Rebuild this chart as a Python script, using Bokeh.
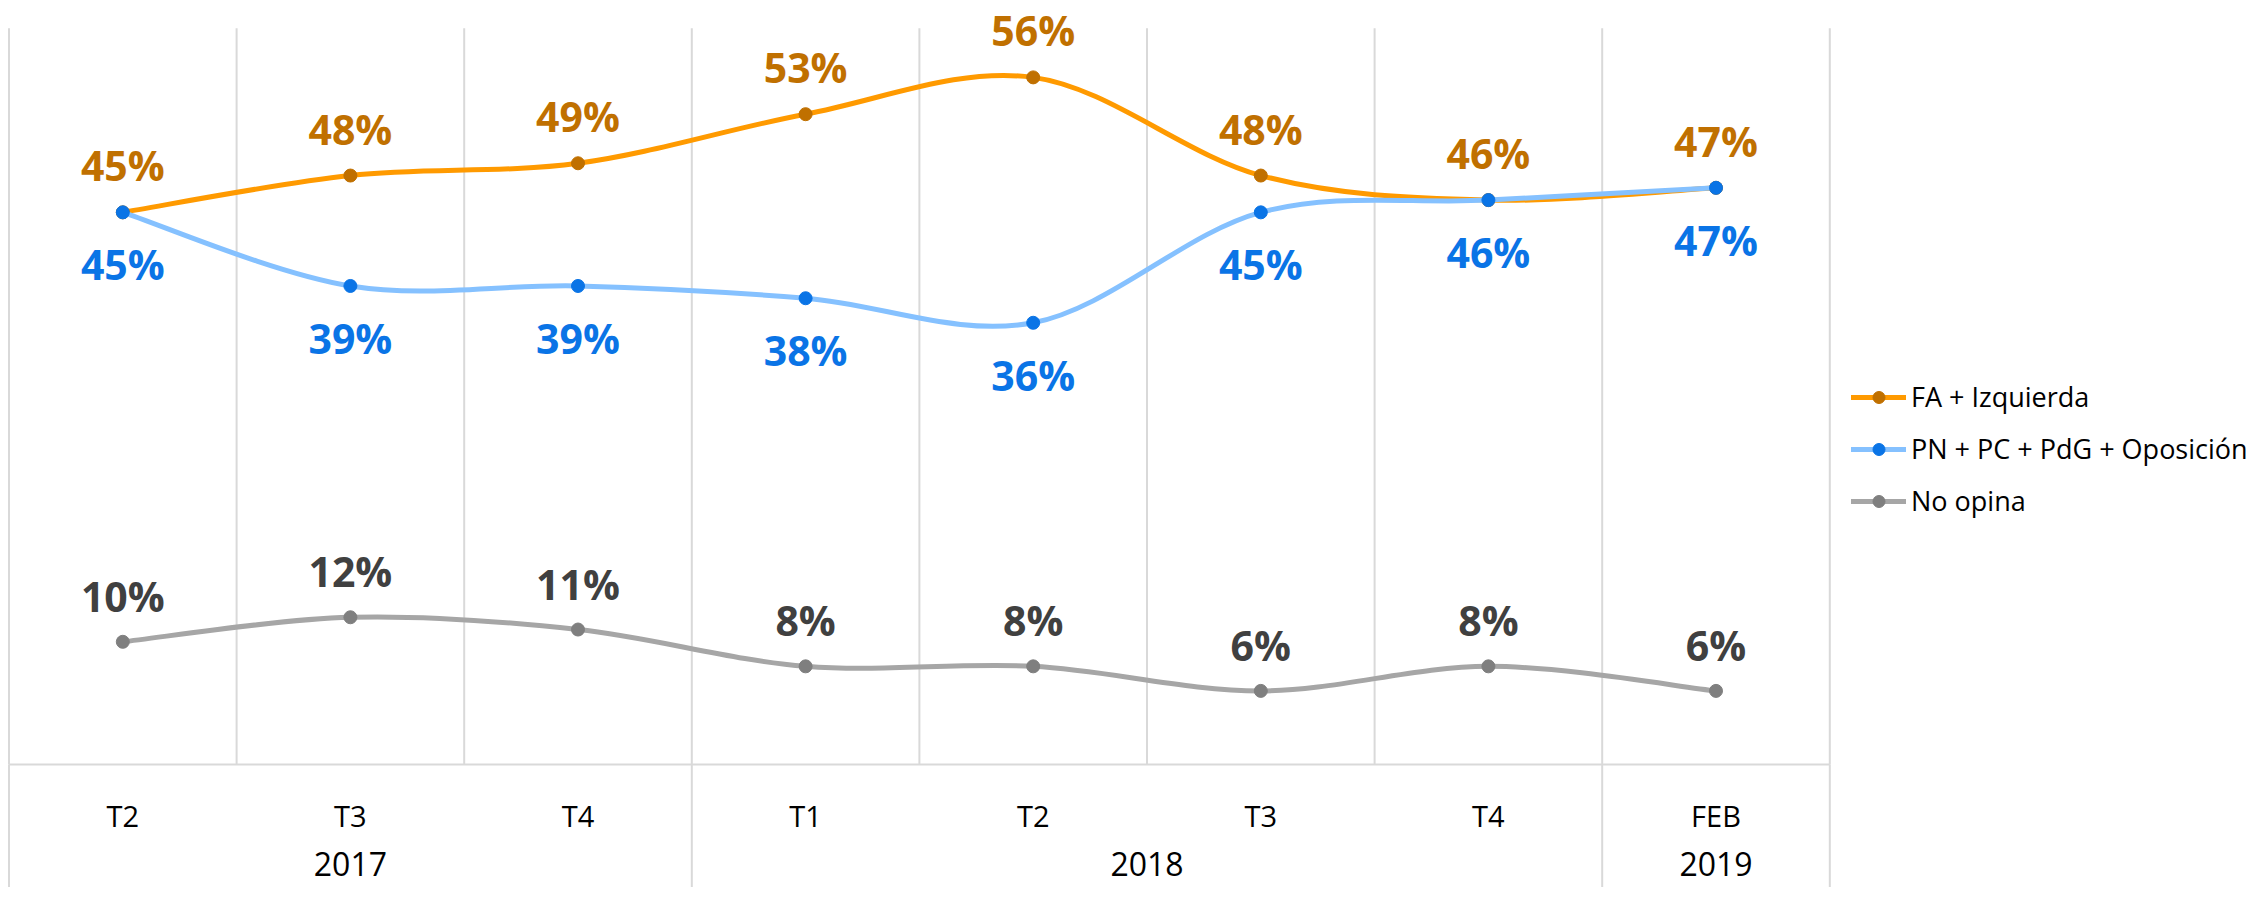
from bokeh.plotting import figure
from bokeh.models import Range1d, Legend, LegendItem
from bokeh.core.properties import value
from bokeh.embed import file_html
from bokeh.resources import INLINE

# ---------------- data ----------------
quarters = ["T2", "T3", "T4", "T1", "T2", "T3", "T4", "FEB"]
years = ["2017", "2018", "2019"]
year_counts = [3, 4, 1]
fa_izquierda = [45, 48, 49, 53, 56, 48, 46, 47]
oposicion = [45, 39, 39, 38, 36, 45, 46, 47]
no_opina = [10, 12, 11, 8, 8, 6, 8, 6]
series_names = ["FA + Izquierda", "PN + PC + PdG + Oposición", "No opina"]

# ---------------- layout ----------------
W, H = 2250, 887
PX_PER_CAT = 227.6
X0_PX = 8.5
PX_PER_PCT = 12.27
Y0_PX = 764.0
Y_MAX = 60

p = figure(width=W, height=H, output_backend="svg", toolbar_location=None,
           x_range=Range1d(-X0_PX / PX_PER_CAT, (W - X0_PX) / PX_PER_CAT),
           y_range=Range1d(-(H - Y0_PX) / PX_PER_PCT, Y0_PX / PX_PER_PCT),
           x_axis_location=None, y_axis_location=None,
           min_border=0, min_border_left=0, min_border_right=0,
           min_border_top=0, min_border_bottom=0)
p.grid.visible = False
p.outline_line_color = None
p.background_fill_color = "white"

n = len(quarters)
xs = [i + 0.5 for i in range(n)]
GRID = "#D9D9D9"
FONT = value("Open Sans")

# vertical gridlines inside plot area
p.segment(x0=list(range(n + 1)), y0=[0] * (n + 1), x1=list(range(n + 1)),
          y1=[Y_MAX] * (n + 1), line_color=GRID, line_width=2)
# group separators down through the category axis area
bounds = [0]
for c in year_counts:
    bounds.append(bounds[-1] + c)
ybot = p.y_range.start
p.segment(x0=bounds, y0=[0] * len(bounds), x1=bounds, y1=[ybot] * len(bounds),
          line_color=GRID, line_width=2)
# horizontal axis line
p.segment(x0=[0], y0=[0], x1=[n], y1=[0], line_color=GRID, line_width=2)

# category labels
p.text(x=xs, y=[0] * n, text=quarters, y_offset=51, text_align="center",
       text_baseline="middle", text_font=FONT, text_font_size="29px",
       text_color="#000000")
year_x = [(bounds[i] + bounds[i + 1]) / 2 for i in range(len(years))]
p.text(x=year_x, y=[0] * len(years), text=years, y_offset=99, text_align="center",
       text_baseline="middle", text_font=FONT, text_font_size="32px",
       text_color="#000000")


def smooth(ys):
    m = len(ys)
    X0, Y0, X1, Y1, CX0, CY0, CX1, CY1 = [], [], [], [], [], [], [], []
    for i in range(m - 1):
        im1 = max(i - 1, 0)
        ip2 = min(i + 2, m - 1)
        X0.append(xs[i]); Y0.append(ys[i])
        X1.append(xs[i + 1]); Y1.append(ys[i + 1])
        CX0.append(xs[i] + (xs[i + 1] - xs[im1]) / 6)
        CY0.append(ys[i] + (ys[i + 1] - ys[im1]) / 6)
        CX1.append(xs[i + 1] - (xs[ip2] - xs[i]) / 6)
        CY1.append(ys[i + 1] - (ys[ip2] - ys[i]) / 6)
    return dict(x0=X0, y0=Y0, x1=X1, y1=Y1, cx0=CX0, cy0=CY0, cx1=CX1, cy1=CY1)


series = [
    (fa_izquierda, "#FF9A00", "#C07000", "#C07000", -47),
    (oposicion, "#85C1FF", "#0A74E6", "#0A74E6", 52),
    (no_opina, "#A6A6A6", "#7F7F7F", "#404040", -46),
]

items = []
for (vals, lc, mc, tc, yoff), name in zip(series, series_names):
    r_line = p.bezier(**smooth(vals), line_color=lc, line_width=5, line_cap="round")
    r_mark = p.scatter(x=xs, y=vals, size=13, marker="circle", fill_color=mc,
                       line_color=mc)
    p.text(x=xs, y=vals, text=[f"{v}%" for v in vals], y_offset=yoff,
           text_align="center", text_baseline="middle", text_font=FONT,
           text_font_size="41px", text_font_style="bold", text_color=tc)
    items.append(LegendItem(label=name, renderers=[r_line, r_mark]))

legend = Legend(items=items, location=(1851, 368), glyph_width=55, glyph_height=30,
                label_text_font="Open Sans", label_text_font_size="27px",
                label_text_color="#000000", label_standoff=5, spacing=15,
                padding=0, margin=0, border_line_color=None,
                background_fill_alpha=0)
p.add_layout(legend)

open("out.html", "w").write(file_html(p, INLINE))
